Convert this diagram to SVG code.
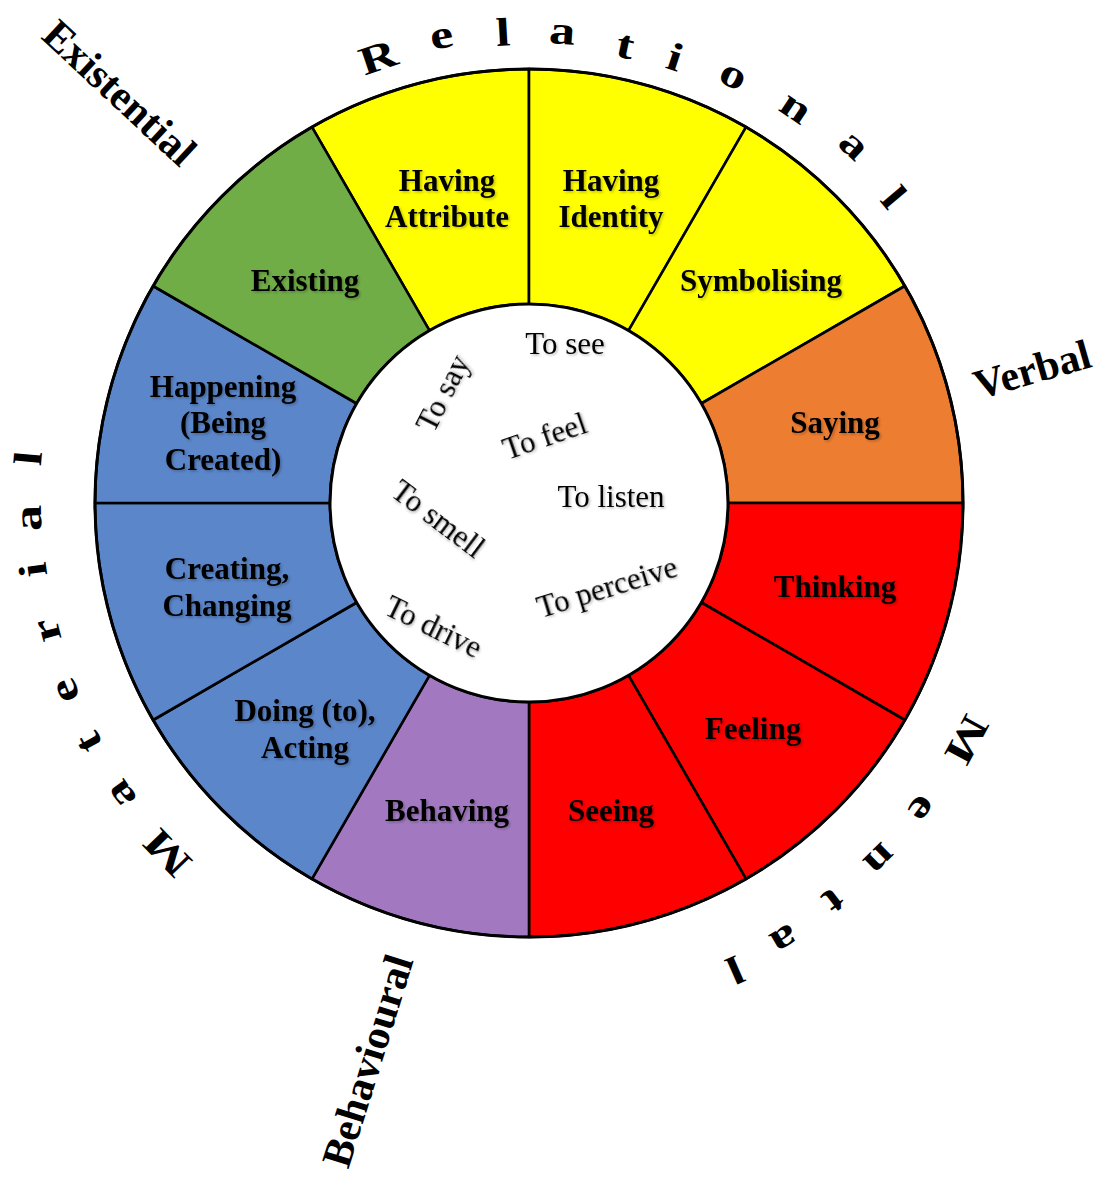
<svg xmlns="http://www.w3.org/2000/svg" width="1100" height="1178" viewBox="0 0 1100 1178">
  <defs>
    <filter id="soft" x="-10%" y="-20%" width="130%" height="150%">
      <feDropShadow dx="1.5" dy="1.5" stdDeviation="1" flood-color="#000" flood-opacity="0.25"/>
    </filter>
    <style>
      .seg { stroke: #000; stroke-width: 2.6; stroke-linejoin: round; }
      .yellow { fill: #FFFF00; }
      .orange { fill: #ED7D31; }
      .red { fill: #FF0000; }
      .purple { fill: #A279C1; }
      .blue { fill: #5B86C9; }
      .green { fill: #70AD47; }
      .lbl { font-family: "Liberation Serif", "Times New Roman", serif; font-weight: bold; font-size: 31px; fill: #000; text-anchor: middle; filter: url(#soft); }
      .verb { font-family: "Liberation Serif", "Times New Roman", serif; font-size: 31px; fill: #000; text-anchor: middle; filter: url(#soft); }
      .cat { font-family: "Liberation Serif", "Times New Roman", serif; font-weight: bold; font-size: 42px; fill: #000; text-anchor: middle; }
      .arc { font-family: "Liberation Serif", "Times New Roman", serif; font-weight: bold; font-size: 40px; fill: #000; text-anchor: middle; }
    </style>
  </defs>

  <rect width="1100" height="1178" fill="#fff"/>

  <!-- wheel sectors, 30 degrees each, centre (529,503), radii 434 / 199 -->
  <g id="having-attribute">
    <path class="seg yellow" d="M312,127.16 A434,434 0 0 1 529,69 L529,304 A199,199 0 0 0 429.5,330.67 Z"/>
    <text class="lbl" x="447" y="191">Having</text>
    <text class="lbl" x="447" y="227">Attribute</text>
  </g>
  <g id="having-identity">
    <path class="seg yellow" d="M529,69 A434,434 0 0 1 746,127.16 L628.5,330.67 A199,199 0 0 0 529,304 Z"/>
    <text class="lbl" x="611" y="191">Having</text>
    <text class="lbl" x="611" y="227">Identity</text>
  </g>
  <g id="symbolising">
    <path class="seg yellow" d="M746,127.16 A434,434 0 0 1 904.84,286 L701.33,403.5 A199,199 0 0 0 628.5,330.67 Z"/>
    <text class="lbl" x="761" y="291">Symbolising</text>
  </g>
  <g id="saying">
    <path class="seg orange" d="M904.84,286 A434,434 0 0 1 963,503 L728,503 A199,199 0 0 0 701.33,403.5 Z"/>
    <text class="lbl" x="835" y="433">Saying</text>
  </g>
  <g id="thinking">
    <path class="seg red" d="M963,503 A434,434 0 0 1 904.84,720 L701.33,602.5 A199,199 0 0 0 728,503 Z"/>
    <text class="lbl" x="835" y="597">Thinking</text>
  </g>
  <g id="feeling">
    <path class="seg red" d="M904.84,720 A434,434 0 0 1 746,878.84 L628.5,675.33 A199,199 0 0 0 701.33,602.5 Z"/>
    <text class="lbl" x="753" y="739">Feeling</text>
  </g>
  <g id="seeing">
    <path class="seg red" d="M746,878.84 A434,434 0 0 1 529,937 L529,702 A199,199 0 0 0 628.5,675.33 Z"/>
    <text class="lbl" x="611" y="821">Seeing</text>
  </g>
  <g id="behaving">
    <path class="seg purple" d="M529,937 A434,434 0 0 1 312,878.84 L429.5,675.33 A199,199 0 0 0 529,702 Z"/>
    <text class="lbl" x="447" y="821">Behaving</text>
  </g>
  <g id="doing-acting">
    <path class="seg blue" d="M312,878.84 A434,434 0 0 1 153.16,720 L356.67,602.5 A199,199 0 0 0 429.5,675.33 Z"/>
    <text class="lbl" x="305" y="721">Doing (to),</text>
    <text class="lbl" x="305" y="758">Acting</text>
  </g>
  <g id="creating-changing">
    <path class="seg blue" d="M153.16,720 A434,434 0 0 1 95,503 L330,503 A199,199 0 0 0 356.67,602.5 Z"/>
    <text class="lbl" x="227" y="579">Creating,</text>
    <text class="lbl" x="227" y="616">Changing</text>
  </g>
  <g id="happening">
    <path class="seg blue" d="M95,503 A434,434 0 0 1 153.16,286 L356.67,403.5 A199,199 0 0 0 330,503 Z"/>
    <text class="lbl" x="223" y="397">Happening</text>
    <text class="lbl" x="223" y="433">(Being</text>
    <text class="lbl" x="223" y="470">Created)</text>
  </g>
  <g id="existing">
    <path class="seg green" d="M153.16,286 A434,434 0 0 1 312,127.16 L429.5,330.67 A199,199 0 0 0 356.67,403.5 Z"/>
    <text class="lbl" x="305" y="291">Existing</text>
  </g>

  <!-- outer rim and central disc -->
  <g id="rims" fill="none" stroke="#000">
    <circle cx="529" cy="503" r="434" stroke-width="3"/>
  </g>
  <g id="hub">
    <circle cx="529" cy="503" r="199" fill="#fff" stroke="#000" stroke-width="3"/>
    <text class="verb" x="565" y="354">To see</text>
    <text class="verb" x="611" y="507">To listen</text>
    <text class="verb" transform="translate(452,398) rotate(-63)">To say</text>
    <text class="verb" transform="translate(548,446) rotate(-19)">To feel</text>
    <text class="verb" transform="translate(432,527) rotate(37)">To smell</text>
    <text class="verb" transform="translate(610,597) rotate(-17)">To perceive</text>
    <text class="verb" transform="translate(429,636) rotate(26)">To drive</text>
  </g>

  <!-- process-type names around the rim -->
  <g id="label-existential">
    <text class="cat" transform="translate(110,103) rotate(43)">Existential</text>
  </g>
  <g id="label-verbal">
    <text class="cat" transform="translate(1036,383) rotate(-16)">Verbal</text>
  </g>
  <g id="label-behavioural">
    <text class="cat" transform="translate(381,1065) rotate(-72.6)">Behavioural</text>
  </g>

  <g id="label-relational">
    <text class="arc" transform="translate(378,57) rotate(-18.7) scale(1.3,1)" y="13.5">R</text>
    <text class="arc" transform="translate(442,39) rotate(-10.6) scale(1.3,1)" y="9">e</text>
    <text class="arc" transform="translate(503,32) rotate(-3.2) scale(1.3,1)" y="13.5">l</text>
    <text class="arc" transform="translate(562,35) rotate(4) scale(1.3,1)" y="9">a</text>
    <text class="arc" transform="translate(625,47) rotate(11.9) scale(1.3,1)" y="11">t</text>
    <text class="arc" transform="translate(675,57) rotate(18.1) scale(1.3,1)" y="13.5">i</text>
    <text class="arc" transform="translate(732,78) rotate(25.5) scale(1.3,1)" y="9">o</text>
    <text class="arc" transform="translate(794,110) rotate(34) scale(1.3,1)" y="9">n</text>
    <text class="arc" transform="translate(852,147) rotate(42.2) scale(1.3,1)" y="9">a</text>
    <text class="arc" transform="translate(894,197) rotate(50) scale(1.3,1)" y="13.5">l</text>
  </g>

  <g id="label-mental">
    <text class="arc" transform="translate(967,740) rotate(118.4) scale(1.3,1)" y="13.5">M</text>
    <text class="arc" transform="translate(920,807) rotate(127.9) scale(1.3,1)" y="9">e</text>
    <text class="arc" transform="translate(878,857) rotate(135.4) scale(1.3,1)" y="9">n</text>
    <text class="arc" transform="translate(833,900) rotate(142.6) scale(1.3,1)" y="11">t</text>
    <text class="arc" transform="translate(783,937) rotate(149.7) scale(1.3,1)" y="9">a</text>
    <text class="arc" transform="translate(735,970) rotate(156.2) scale(1.3,1)" y="13.5">l</text>
  </g>

  <g id="label-material">
    <text class="arc" transform="translate(167,853) rotate(-134) scale(1.3,1)" y="13.5">M</text>
    <text class="arc" transform="translate(123,793) rotate(-125.5) scale(1.3,1)" y="9">a</text>
    <text class="arc" transform="translate(90,742) rotate(-118.6) scale(1.3,1)" y="11">t</text>
    <text class="arc" transform="translate(68,690) rotate(-112.1) scale(1.3,1)" y="9">e</text>
    <text class="arc" transform="translate(50,630) rotate(-104.8) scale(1.3,1)" y="9">r</text>
    <text class="arc" transform="translate(33,570) rotate(-97.7) scale(1.3,1)" y="13.5">i</text>
    <text class="arc" transform="translate(32,518) rotate(-91.7) scale(1.3,1)" y="9">a</text>
    <text class="arc" transform="translate(28,458) rotate(-84.9) scale(1.3,1)" y="13.5">l</text>
  </g>
</svg>
